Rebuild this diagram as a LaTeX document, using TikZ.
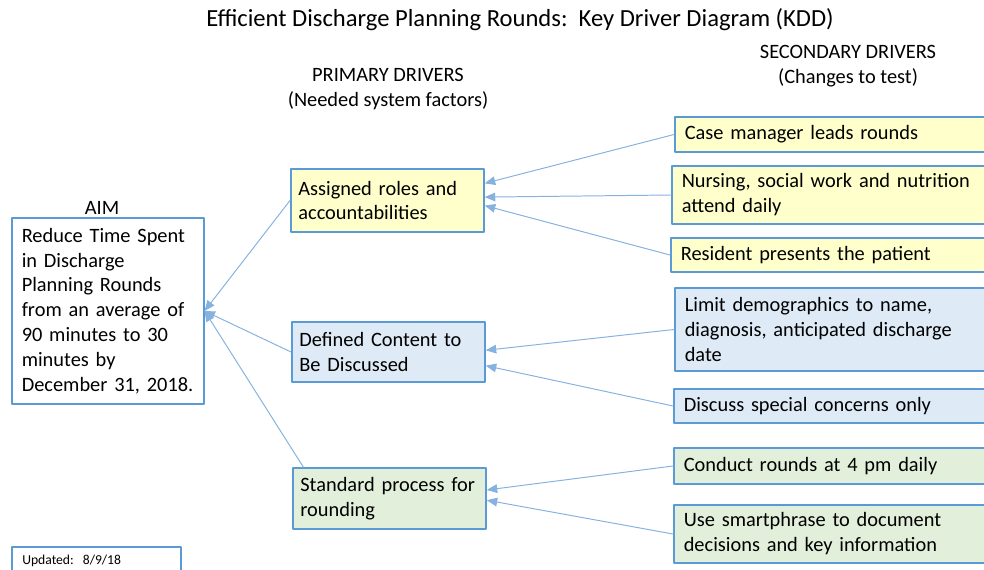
\documentclass[tikz,border=0pt]{standalone}
\usepackage{fontspec}
\setmainfont{Carlito}
\usepackage{xcolor}
\usepackage{tikz}
\usetikzlibrary{arrows}

\definecolor{kddedge}{HTML}{5B9BD5}
\definecolor{kddline}{HTML}{86B2E0}
\definecolor{kddyellow}{HTML}{FFFFCC}
\definecolor{kddblue}{HTML}{DEEBF7}
\definecolor{kddgreen}{HTML}{E2EFDA}

\tikzset{
  box/.style={draw=kddedge,line width=1.1pt,align=left,inner xsep=0.25cm,inner ysep=0pt,
    font=\fontsize{14.5}{17.7}\selectfont,anchor=west},
  primbox/.style={box,inner xsep=0.19cm,text width=4.45cm,minimum width=4.825cm},
  secbox/.style={box,text width=8.5cm,minimum width=9cm},
  link/.style={draw=kddline,line width=0.7pt,->},
  head/.style={font=\fontsize{14.5}{17.7}\selectfont,align=center}
}

\begin{document}
\begin{tikzpicture}[line cap=round,line join=round,>=triangle 45,x=1.0cm,y=1.0cm]
		\useasboundingbox (0,0) rectangle (24.6,14.225);
		\clip(0,0) rectangle (24.6,14.225);
		% headings
		\node (title) at (13.0,13.725) {\fontsize{17.5}{21}\selectfont Efficient Discharge Planning Rounds:\ \ Key Driver Diagram (KDD)};
		\node[head] (primhead) at (9.7,12.0) {PRIMARY DRIVERS\\(Needed system factors)};
		\node[head] (sechead) at (21.2,12.58) {SECONDARY DRIVERS\\(Changes to test)};
		% aim
		\node[head] (aimlbl) at (2.55,9.02) {AIM};
		\node[box,fill=white,text width=4.3cm,minimum width=4.8cm,minimum height=4.65cm] (aim) at (0.275,6.45)
			{Reduce Time Spent\\in Discharge\\Planning Rounds\\from an average of\\90 minutes to 30\\minutes by\\December 31, 2018.};
		% primary drivers
		\node[primbox,fill=kddyellow,minimum height=1.575cm] (roles) at (7.25,9.2125) {Assigned roles and\\accountabilities};
		\node[primbox,fill=kddblue,minimum height=1.5cm] (content) at (7.275,5.425) {Defined Content to\\Be Discussed};
		\node[primbox,fill=kddgreen,minimum height=1.525cm] (process) at (7.3,1.7625) {Standard process for\\rounding};
		% secondary drivers
		\node[secbox,fill=kddyellow,minimum height=0.875cm] (casemgr) at (16.85,10.8625) {Case manager leads rounds};
		\node[secbox,fill=kddyellow,minimum height=1.45cm] (nursing) at (16.775,9.35) {Nursing, social work and nutrition\\attend daily};
		\node[secbox,fill=kddyellow,minimum height=0.85cm] (resident) at (16.75,7.85) {Resident presents the patient};
		\node[secbox,fill=kddblue,minimum height=2.075cm] (demog) at (16.85,5.9875) {Limit demographics to name,\\diagnosis, anticipated discharge\\date};
		\node[secbox,fill=kddblue,minimum height=0.85cm] (concerns) at (16.825,4.075) {Discuss special concerns only};
		\node[secbox,fill=kddgreen,minimum height=0.9cm] (fourpm) at (16.825,2.575) {Conduct rounds at 4 pm daily};
		\node[secbox,fill=kddgreen,minimum height=1.45cm] (smartphr) at (16.825,0.875) {Use smartphrase to document\\decisions and key information};
		% updated
		\node[draw=kddedge,line width=1.1pt,anchor=north west,minimum width=4.225cm,minimum height=0.7cm,
			text width=3.7cm,align=left,inner xsep=0.25cm,inner ysep=0.05cm,font=\fontsize{9.7}{11}\selectfont] (updated) at (0.275,0.575)
			{Updated:\ \ 8/9/18};
		% links
		\draw[link] (casemgr.west) -- (roles.10);
		\draw[link] (nursing.west) -- (roles.2);
		\draw[link] (resident.west) -- (roles.-3);
		\draw[link] (demog.west) -- (content.1);
		\draw[link] (concerns.west) -- (content.-8);
		\draw[link] (fourpm.west) -- (process.5);
		\draw[link] (smartphr.west) -- (process.-1);
		\draw[link] (roles.west) -- (aim.east);
		\draw[link] (content.west) -- (aim.east);
		\draw[link] (process.160) -- (aim.east);
	\end{tikzpicture}
\end{document}
